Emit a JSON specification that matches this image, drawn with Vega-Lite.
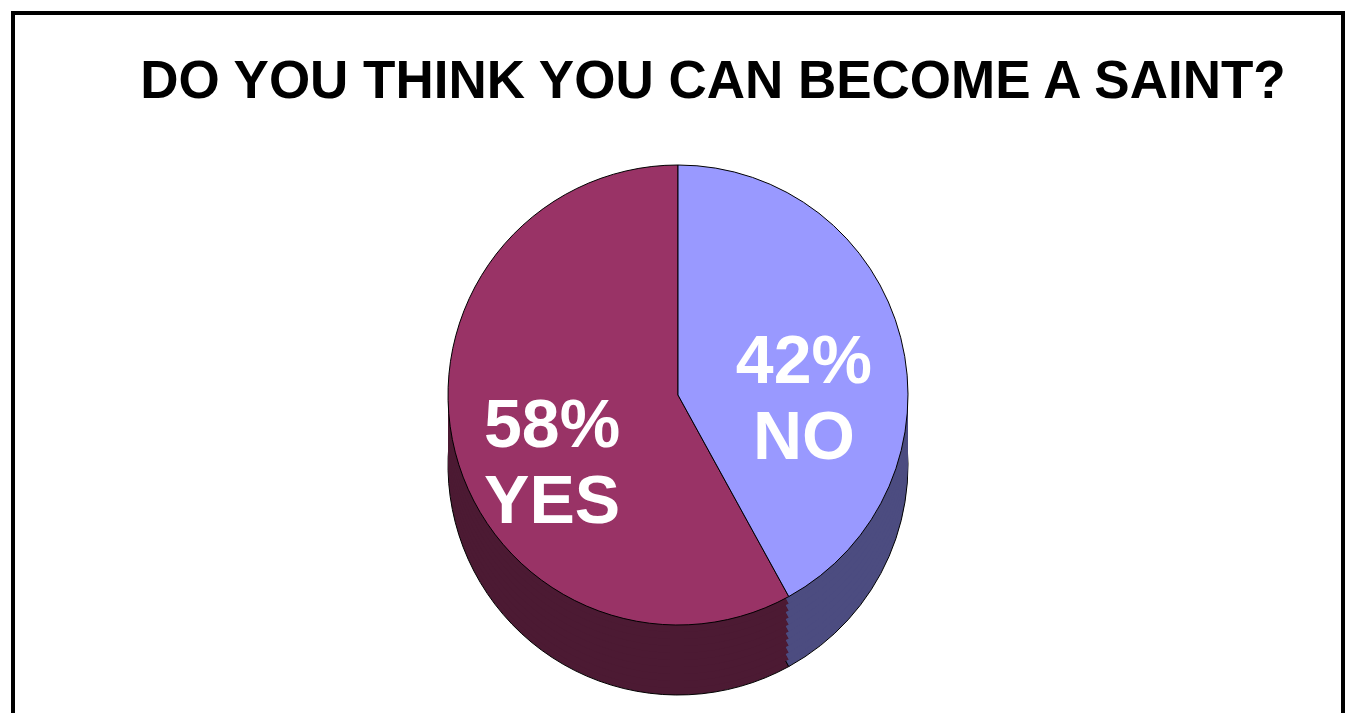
{
  "$schema": "https://vega.github.io/schema/vega-lite/v6.json",
  "width": 1357,
  "height": 713,
  "autosize": {"type": "fit", "contains": "padding"},
  "padding": {"left": 11, "top": 11, "right": 12, "bottom": -6},
  "background": "white",
  "title": {
    "text": "DO YOU THINK YOU CAN BECOME A SAINT?",
    "font": "Liberation Sans",
    "fontSize": 53,
    "fontWeight": "bold",
    "color": "black",
    "anchor": "middle",
    "frame": "group",
    "baseline": "alphabetic",
    "offset": -140,
    "dx": 35
  },
  "data": {
    "values": [
      {"answer": "YES", "pct": 58, "label": "58%\nYES"},
      {"answer": "NO", "pct": 42, "label": "42%\nNO"}
    ]
  },
  "layer": [
    {
      "mark": {"type": "rect", "filled": false, "fill": null, "stroke": "black", "strokeWidth": 4},
      "encoding": {}
    },
    {
      "mark": {"type": "arc", "radius": 230, "yOffset": 100, "stroke": "black", "strokeWidth": 1},
      "encoding": {
        "theta": {"field": "pct", "type": "quantitative", "stack": true},
        "order": {"field": "answer", "sort": "ascending"},
        "color": {"field": "answer", "type": "nominal", "legend": null, "scale": {"domain": ["NO", "YES"], "range": ["#4C4C80", "#4C1A33"]}}
      }
    },
    {
      "mark": {"type": "arc", "radius": 230, "yOffset": 93},
      "encoding": {
        "theta": {"field": "pct", "type": "quantitative", "stack": true},
        "order": {"field": "answer", "sort": "ascending"},
        "color": {"field": "answer", "type": "nominal", "legend": null, "scale": {"domain": ["NO", "YES"], "range": ["#4C4C80", "#4C1A33"]}}
      }
    },
    {
      "mark": {"type": "arc", "radius": 230, "yOffset": 86},
      "encoding": {
        "theta": {"field": "pct", "type": "quantitative", "stack": true},
        "order": {"field": "answer", "sort": "ascending"},
        "color": {"field": "answer", "type": "nominal", "legend": null, "scale": {"domain": ["NO", "YES"], "range": ["#4C4C80", "#4C1A33"]}}
      }
    },
    {
      "mark": {"type": "arc", "radius": 230, "yOffset": 79},
      "encoding": {
        "theta": {"field": "pct", "type": "quantitative", "stack": true},
        "order": {"field": "answer", "sort": "ascending"},
        "color": {"field": "answer", "type": "nominal", "legend": null, "scale": {"domain": ["NO", "YES"], "range": ["#4C4C80", "#4C1A33"]}}
      }
    },
    {
      "mark": {"type": "arc", "radius": 230, "yOffset": 72},
      "encoding": {
        "theta": {"field": "pct", "type": "quantitative", "stack": true},
        "order": {"field": "answer", "sort": "ascending"},
        "color": {"field": "answer", "type": "nominal", "legend": null, "scale": {"domain": ["NO", "YES"], "range": ["#4C4C80", "#4C1A33"]}}
      }
    },
    {
      "mark": {"type": "arc", "radius": 230, "yOffset": 65},
      "encoding": {
        "theta": {"field": "pct", "type": "quantitative", "stack": true},
        "order": {"field": "answer", "sort": "ascending"},
        "color": {"field": "answer", "type": "nominal", "legend": null, "scale": {"domain": ["NO", "YES"], "range": ["#4C4C80", "#4C1A33"]}}
      }
    },
    {
      "mark": {"type": "arc", "radius": 230, "yOffset": 58},
      "encoding": {
        "theta": {"field": "pct", "type": "quantitative", "stack": true},
        "order": {"field": "answer", "sort": "ascending"},
        "color": {"field": "answer", "type": "nominal", "legend": null, "scale": {"domain": ["NO", "YES"], "range": ["#4C4C80", "#4C1A33"]}}
      }
    },
    {
      "mark": {"type": "arc", "radius": 230, "yOffset": 51},
      "encoding": {
        "theta": {"field": "pct", "type": "quantitative", "stack": true},
        "order": {"field": "answer", "sort": "ascending"},
        "color": {"field": "answer", "type": "nominal", "legend": null, "scale": {"domain": ["NO", "YES"], "range": ["#4C4C80", "#4C1A33"]}}
      }
    },
    {
      "mark": {"type": "arc", "radius": 230, "yOffset": 44},
      "encoding": {
        "theta": {"field": "pct", "type": "quantitative", "stack": true},
        "order": {"field": "answer", "sort": "ascending"},
        "color": {"field": "answer", "type": "nominal", "legend": null, "scale": {"domain": ["NO", "YES"], "range": ["#4C4C80", "#4C1A33"]}}
      }
    },
    {
      "mark": {"type": "arc", "radius": 230, "yOffset": 37},
      "encoding": {
        "theta": {"field": "pct", "type": "quantitative", "stack": true},
        "order": {"field": "answer", "sort": "ascending"},
        "color": {"field": "answer", "type": "nominal", "legend": null, "scale": {"domain": ["NO", "YES"], "range": ["#4C4C80", "#4C1A33"]}}
      }
    },
    {
      "mark": {"type": "arc", "radius": 230, "yOffset": 30, "stroke": "black", "strokeWidth": 1},
      "encoding": {
        "theta": {"field": "pct", "type": "quantitative", "stack": true},
        "order": {"field": "answer", "sort": "ascending"},
        "color": {"field": "answer", "type": "nominal", "legend": null, "scale": {"domain": ["NO", "YES"], "range": ["#9999FF", "#993366"]}}
      }
    },
    {
      "mark": {"type": "text", "radius": 130, "yOffset": 30, "font": "Liberation Sans", "fontSize": 68, "fontWeight": "bold", "fill": "white", "lineBreak": "\n", "lineHeight": 76, "align": "center", "baseline": "middle"},
      "encoding": {
        "theta": {"field": "pct", "type": "quantitative", "stack": true},
        "order": {"field": "answer", "sort": "ascending"},
        "text": {"field": "label", "type": "nominal"}
      }
    }
  ],
  "resolve": {"scale": {"color": "independent"}},
  "config": {
    "view": {"stroke": null}
  }
}
